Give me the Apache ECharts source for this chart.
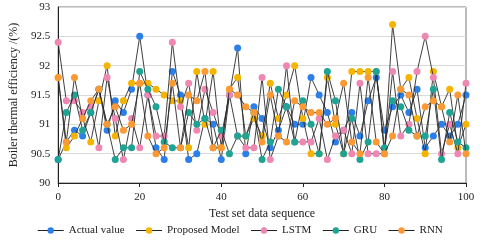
<!DOCTYPE html>
<html>
<head>
<meta charset="utf-8">
<script src="https://cdn.jsdelivr.net/npm/echarts@6/dist/echarts.min.js"></script>
<style>html,body{margin:0;padding:0;background:#fff}#c{width:480px;height:245px}</style>
</head>
<body>
<div id="c"></div>
<script>
// x positions: test set sequence 0,2,...,100
const xs = [];
for (let i = 0; i <= 100; i += 2) xs.push(i);

const actualValue = [90.4,90.7,90.9,90.8,91.2,91.6,90.9,91.4,91.2,91.6,
  92.5,91.5,90.6,90.4,91.9,91.5,90.4,90.5,91.1,91.0,
  90.4,91.5,92.3,90.5,91.3,91.1,90.6,90.9,91.3,91.0,
  91.0,91.8,91.5,91.2,90.7,90.9,91.2,90.8,91.4,91.8,
  90.9,91.3,91.5,91.2,91.6,90.6,90.8,91.0,90.8,91.0,91.5];
const proposedModel = [91.8,90.6,90.8,91.1,90.7,91.4,92.0,90.8,91.4,91.7,
  91.7,91.7,91.6,91.5,91.4,91.4,90.6,91.9,91.0,91.9,
  90.6,91.6,91.8,90.8,91.1,90.8,91.7,91.1,91.5,92.0,
  91.1,90.5,90.5,91.8,91.0,90.5,91.9,91.9,91.9,91.9,
  90.5,92.7,91.6,91.8,91.1,90.5,91.9,91.3,91.6,90.6,91.0];
const lstm = [92.4,91.4,91.4,91.2,91.3,90.6,91.8,91.1,90.4,91.1,
  90.6,91.5,90.8,90.8,92.4,91.3,91.7,90.9,91.6,91.2,
  90.8,91.5,90.8,90.6,90.6,91.8,90.4,90.8,92.0,90.7,
  90.7,90.7,91.1,90.4,90.8,90.9,90.5,91.7,90.5,90.5,
  90.5,91.9,90.8,91.0,91.9,92.5,91.8,90.5,91.0,90.5,91.7];
const gru = [90.4,91.2,91.5,90.9,91.2,91.6,91.0,90.4,90.6,90.6,
  91.9,91.6,91.3,90.7,90.6,90.6,91.2,91.0,91.1,90.6,
  90.9,90.5,90.8,90.8,91.2,90.4,90.7,91.6,91.3,90.7,
  91.4,91.0,90.5,91.9,91.4,90.5,91.1,90.4,90.7,91.9,
  90.6,91.4,91.3,90.9,90.8,90.8,91.6,90.4,91.2,90.7,90.6];
const rnn = [91.8,90.7,91.8,91.1,91.4,91.6,91.0,91.3,90.9,91.0,
  91.7,90.8,90.5,90.6,91.7,90.6,91.5,91.4,91.9,90.6,
  90.6,91.6,91.5,91.3,91.2,90.7,91.5,90.8,90.7,91.4,
  91.3,91.2,91.2,91.0,91.1,91.7,90.7,90.5,91.8,90.7,
  90.5,90.8,91.6,91.5,90.8,91.3,91.4,91.3,90.7,91.5,90.5];

const seriesNames = ['Actual value','Proposed Model','LSTM','GRU','RNN'];
const seriesData = [actualValue, proposedModel, lstm, gru, rnn];
const markerColors = ['#2b7fe8','#f5b400','#ee88b2','#1ea394','#fb9a34'];
const yTicks = [90, 90.5, 91, 91.5, 92, 92.5, 93];

const font = "'Liberation Serif', 'Times New Roman', serif";
const chart = echarts.init(document.getElementById('c'), null, {renderer: 'canvas'});
chart.setOption({
  animation: false,
  backgroundColor: '#fff',
  grid: {left: 51, right: 14, top: 7, bottom: 62, show: true, borderColor: '#777', borderWidth: 1},
  legend: {
    data: seriesNames, bottom: 4, left: 'center', itemWidth: 26, itemHeight: 8, itemGap: 11,
    lineStyle: {color: '#222', width: 1},
    textStyle: {fontFamily: font, fontSize: 11, color: '#222'}
  },
  xAxis: {
    type: 'value', min: 0, max: 100, interval: 20,
    name: 'Test set data sequence', nameLocation: 'middle', nameGap: 24,
    nameTextStyle: {fontFamily: font, fontSize: 12, color: '#222'},
    axisLine: {show: true, lineStyle: {color: '#222', width: 1}},
    axisTick: {show: true, length: 4, lineStyle: {color: '#222'}},
    axisLabel: {fontFamily: font, fontSize: 11, color: '#222', margin: 9},
    splitLine: {show: false}
  },
  yAxis: {
    type: 'value', min: yTicks[0], max: yTicks[yTicks.length - 1], interval: 0.5,
    name: 'Boiler thermal efficiency /(%)', nameLocation: 'middle', nameGap: 33,
    nameTextStyle: {fontFamily: font, fontSize: 12, color: '#222'},
    axisLine: {show: true, lineStyle: {color: '#222', width: 1}},
    axisTick: {show: false},
    axisLabel: {fontFamily: font, fontSize: 11, color: '#222', margin: 8},
    splitLine: {show: true, lineStyle: {color: '#d9d9d9', width: 1}}
  },
  series: seriesNames.map((n, k) => ({
    name: n, type: 'line',
    data: xs.map((x, i) => [x, seriesData[k][i]]),
    symbol: 'circle', symbolSize: 7,
    itemStyle: {color: markerColors[k], borderWidth: 0},
    lineStyle: {color: '#2a2a2a', width: 0.9},
    z: 2 + k
  }))
});
</script>
</body>
</html>
